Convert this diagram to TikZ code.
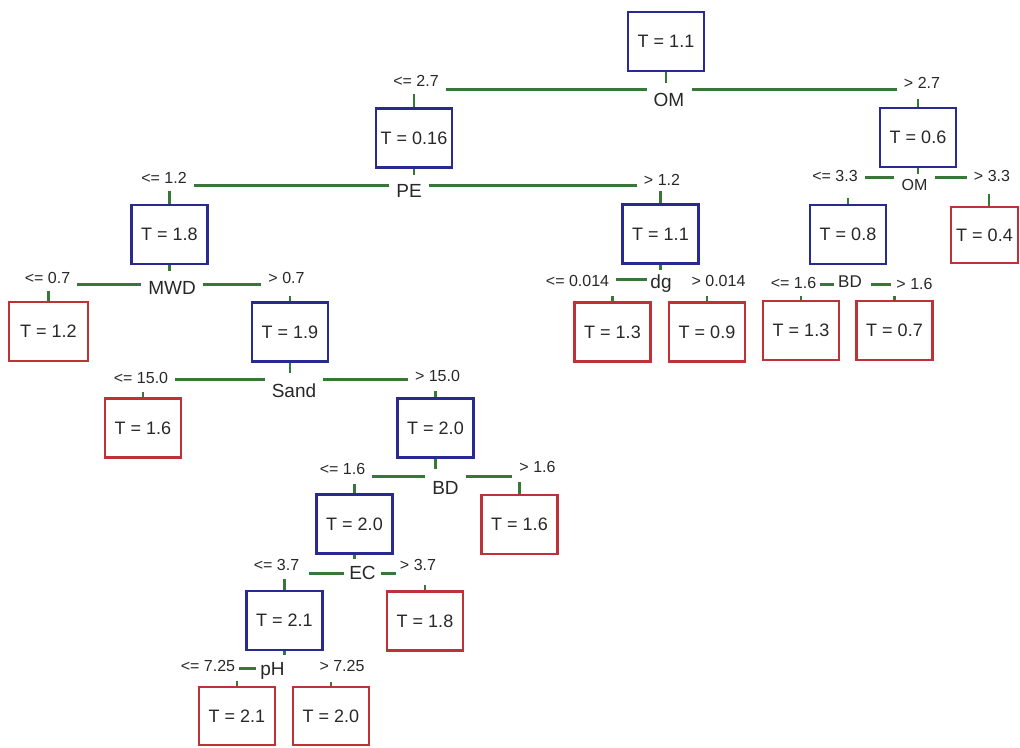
\documentclass[tikz,border=0pt]{standalone}
\usepackage{fontspec}
\setmainfont{Liberation Sans}
\definecolor{bblue}{RGB}{40,42,145}
\definecolor{lred}{RGB}{190,50,55}
\definecolor{lgreen}{RGB}{55,120,55}
\definecolor{txt}{RGB}{40,40,40}
\begin{document}
\begin{tikzpicture}[x=1pt,y=-1pt,
  bx/.style={line width=2.6pt, minimum width=76pt, minimum height=59pt, inner sep=0pt, font=\fontsize{18}{21}\selectfont, text=txt},
  inbox/.style={bx, draw=bblue},
  leafbox/.style={bx, draw=lred},
  lbl/.style={font=\fontsize{16}{19}\selectfont, text=txt, inner sep=0pt},
  var/.style={font=\fontsize{19}{22}\selectfont, text=txt, inner sep=0pt},
  gl/.style={draw=lgreen, line width=3pt, shorten <=7pt, shorten >=7pt},
  tk/.style={draw=lgreen, line width=2.4pt}]
\useasboundingbox (0,0) rectangle (1020,747);
\fill[white] (0,0) rectangle (1020,747);

% boxes
\node[inbox] (n1) at (666,41.5) {T = 1.1};
\node[inbox] (n2) at (414,138) {T = 0.16};
\node[inbox] (n3) at (918,137.5) {T = 0.6};
\node[inbox] (n4) at (169.5,234.5) {T = 1.8};
\node[inbox] (n5) at (660.5,234) {T = 1.1};
\node[inbox] (n6) at (848,234.5) {T = 0.8};
\node[leafbox, minimum width=67pt, minimum height=56pt] (n7) at (984.5,235) {T = 0.4};
\node[leafbox, minimum width=79pt] (n8) at (48.5,331.5) {T = 1.2};
\node[inbox] (n9) at (290,332) {T = 1.9};
\node[leafbox] (n10) at (612.5,332) {T = 1.3};
\node[leafbox] (n11) at (707,332) {T = 0.9};
\node[leafbox] (n12) at (801,330.5) {T = 1.3};
\node[leafbox] (n13) at (894.5,330.5) {T = 0.7};
\node[leafbox] (n14) at (143,428) {T = 1.6};
\node[inbox] (n15) at (435.5,428) {T = 2.0};
\node[inbox] (n16) at (354.5,524) {T = 2.0};
\node[leafbox] (n17) at (519.5,524.5) {T = 1.6};
\node[inbox] (n18) at (284.5,620.5) {T = 2.1};
\node[leafbox] (n19) at (425,621) {T = 1.8};
\node[leafbox, minimum height=58pt] (n20) at (237,716) {T = 2.1};
\node[leafbox, minimum height=58pt] (n21) at (331,716) {T = 2.0};

% split: OM (root)
\coordinate (s1) at (0,89);
\node[lbl] (l1) at (416,81) {<= 2.7};
\node[var] (v1) at (669,100) {OM};
\node[lbl] (r1) at (922,83) {> 2.7};
\draw[gl] (l1.east |- s1) -- (v1.west |- s1);
\draw[gl] (v1.east |- s1) -- (r1.west |- s1);

% split: PE
\coordinate (s2) at (0,185);
\node[lbl] (l2) at (164,178) {<= 1.2};
\node[var] (v2) at (409,191) {PE};
\node[lbl] (r2) at (662,180) {> 1.2};
\draw[gl] (l2.east |- s2) -- (v2.west |- s2);
\draw[gl] (v2.east |- s2) -- (r2.west |- s2);

% split: OM (small)
\coordinate (s3) at (0,177);
\node[lbl] (l3) at (835,176) {<= 3.3};
\node[lbl] (v3) at (914.5,185) {OM};
\node[lbl] (r3) at (992,176) {> 3.3};
\draw[gl] (l3.east |- s3) -- (v3.west |- s3);
\draw[gl] (v3.east |- s3) -- (r3.west |- s3);

% split: MWD
\coordinate (s4) at (0,284);
\node[lbl] (l4) at (47.5,278) {<= 0.7};
\node[var] (v4) at (172,288) {MWD};
\node[lbl] (r4) at (286.5,278) {> 0.7};
\draw[gl] (l4.east |- s4) -- (v4.west |- s4);
\draw[gl] (v4.east |- s4) -- (r4.west |- s4);

% split: dg
\coordinate (s5) at (0,279);
\node[lbl] (l5) at (577.5,281) {<= 0.014};
\node[var] (v5) at (661,284) {dg};
\node[lbl] (r5) at (718.5,281) {> 0.014};
\draw[gl, shorten >=3pt] (l5.east |- s5) -- (v5.west |- s5);

% split: BD (small)
\coordinate (s6) at (0,284);
\node[lbl] (l6) at (793.5,283) {<= 1.6};
\node[var, font=\fontsize{17}{20}\selectfont] (v6) at (850,282) {BD};
\node[lbl] (r6) at (914.5,284) {> 1.6};
\draw[gl, shorten <=4pt, shorten >=4pt] (l6.east |- s6) -- (v6.west |- s6);
\draw[gl, shorten <=9pt, shorten >=5pt] (v6.east |- s6) -- (r6.west |- s6);

% split: Sand
\coordinate (s7) at (0,379);
\node[lbl] (l7) at (141,378) {<= 15.0};
\node[var] (v7) at (294,391) {Sand};
\node[lbl] (r7) at (437.5,376) {> 15.0};
\draw[gl] (l7.east |- s7) -- (v7.west |- s7);
\draw[gl] (v7.east |- s7) -- (r7.west |- s7);

% split: BD
\coordinate (s8) at (0,476);
\node[lbl] (l8) at (342.5,469) {<= 1.6};
\node[var] (v8) at (445.5,488) {BD};
\node[lbl] (r8) at (537.5,467) {> 1.6};
\draw[gl] (l8.east |- s8) -- (v8.west |- s8);
\draw[gl] (v8.east |- s8) -- (r8.west |- s8);

% split: EC
\coordinate (s9) at (0,573);
\node[lbl] (l9) at (276.5,565) {<= 3.7};
\node[var] (v9) at (362.5,573) {EC};
\node[lbl] (r9) at (418,565) {> 3.7};
\draw[gl, shorten <=10pt, shorten >=5pt] (l9.east |- s9) -- (v9.west |- s9);
\draw[gl, shorten <=5pt, shorten >=4pt] (v9.east |- s9) -- (r9.west |- s9);

% split: pH
\coordinate (s10) at (0,668);
\node[lbl] (l10) at (208,666) {<= 7.25};
\node[var] (v10) at (272.5,671) {pH};
\node[lbl] (r10) at (342,666) {> 7.25};
\draw[gl, shorten <=4pt, shorten >=4pt] (l10.east |- s10) -- (v10.west |- s10);

% ticks below split boxes
\draw[tk] (n1.south) -- ++(0,11);
\draw[tk] (n2.south) -- ++(0,6);
\draw[tk] (n3.south) -- ++(0,6);
\draw[tk] (n4.south) -- ++(0,6);
\draw[tk] (n5.south) -- ++(0,5);
\draw[tk] (n9.south) -- ++(0,10);
\draw[tk] (n15.south) -- ++(0,10);
\draw[tk] (n16.south) -- ++(0,4);
\draw[tk] (n18.south) -- ++(0,4);

% ticks above children
\draw[tk] (n2.north) -- ++(0,-13);
\draw[tk] (n3.north) -- ++(0,-8);
\draw[tk] (n4.north) -- ++(0,-13);
\draw[tk] (n5.north) -- ++(0,-12);
\draw[tk] (n6.north) -- ++(0,-6);
\draw[tk] ([xshift=4.5pt]n7.north) -- ++(0,-12);
\draw[tk] (n8.north) -- ++(0,-10);
\draw[tk] (n9.north) -- ++(0,-5);
\draw[tk] (n10.north) -- ++(0,-5);
\draw[tk] (n11.north) -- ++(0,-5);
\draw[tk] (n12.north) -- ++(0,-4);
\draw[tk] (n13.north) -- ++(0,-4);
\draw[tk] (n14.north) -- ++(0,-5);
\draw[tk] (n15.north) -- ++(0,-6);
\draw[tk] (n16.north) -- ++(0,-9);
\draw[tk] (n17.north) -- ++(0,-12);
\draw[tk] (n18.north) -- ++(0,-11);
\draw[tk] (n19.north) -- ++(0,-5);
\draw[tk] (n20.north) -- ++(0,-5);
\draw[tk] (n21.north) -- ++(0,-4);
\end{tikzpicture}
\end{document}
